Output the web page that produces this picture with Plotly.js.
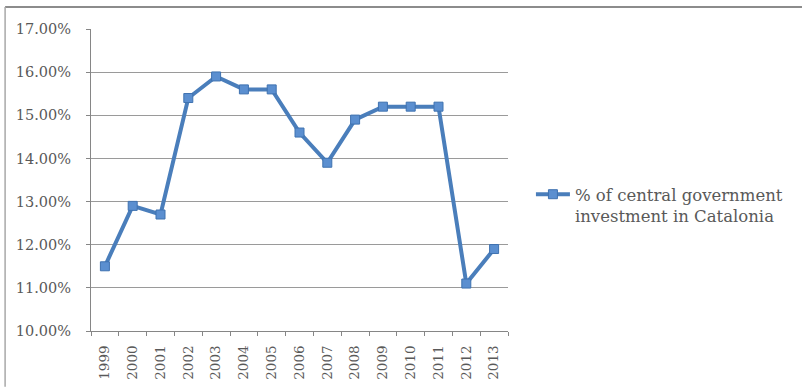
<!DOCTYPE html>
<html>
<head>
<meta charset="utf-8">
<script src="https://cdn.plot.ly/plotly-3.0.1.min.js"></script>
<style>html,body{margin:0;padding:0;background:#fff;}#chart{width:802px;height:387px;}</style>
</head>
<body>
<div id="chart"></div>
<script>
const years = ["1999","2000","2001","2002","2003","2004","2005","2006","2007","2008","2009","2010","2011","2012","2013"];
const shareValues = [11.5, 12.9, 12.7, 15.4, 15.9, 15.6, 15.6, 14.6, 13.9, 14.9, 15.2, 15.2, 15.2, 11.1, 11.9];
const seriesName = "% of central government<br>investment in Catalonia";
const yTicks = [10, 11, 12, 13, 14, 15, 16, 17];
const yTickLabels = yTicks.map(v => v.toFixed(2) + "%");

const trace = {
  x: years,
  y: shareValues,
  type: "scatter",
  mode: "lines+markers",
  name: seriesName,
  line: {color: "#4a7ebb", width: 4},
  marker: {symbol: "square", size: 9, color: "#5b8fd0", line: {color: "#3f72b0", width: 1}}
};

const fam = "DejaVu Serif, Liberation Serif, serif";

const layout = {
  width: 802, height: 387,
  margin: {l: 91, r: 294, t: 29, b: 56, autoexpand: false},
  paper_bgcolor: "#ffffff",
  plot_bgcolor: "#ffffff",
  showlegend: true,
  font: {family: fam, color: "#595959"},
  xaxis: {
    type: "category",
    range: [-0.5, 14.5],
    tickson: "boundaries",
    ticks: "outside", ticklen: 4, tickcolor: "#868686",
    showline: true, linecolor: "#868686", linewidth: 1,
    showgrid: false,
    tickangle: -90,
    ticklabelstandoff: 8,
    automargin: false,
    tickfont: {family: fam, size: 13.5, color: "#595959"},
    fixedrange: true
  },
  yaxis: {
    range: [10, 17],
    tickvals: yTicks,
    ticktext: yTickLabels,
    ticks: "outside", ticklen: 4, tickcolor: "#868686",
    showline: true, linecolor: "#868686", linewidth: 1,
    showgrid: true, gridcolor: "#9a9a9a", gridwidth: 1,
    zeroline: false,
    ticklabelstandoff: 12,
    automargin: false,
    tickfont: {family: fam, size: 14.5, color: "#595959"},
    fixedrange: true
  },
  legend: {
    x: 1.055, y: 0.51, xanchor: "left", yanchor: "top",
    valign: "top",
    font: {family: fam, size: 16.5, color: "#595959"},
    bgcolor: "rgba(0,0,0,0)",
    itemwidth: 34
  },
  shapes: [
    {type: "line", xref: "paper", yref: "paper", x0: -0.206, x1: 1.705, y0: 1.073, y1: 1.073, line: {color: "#8c8c8c", width: 2}},
    {type: "line", xref: "paper", yref: "paper", x0: -0.206, x1: -0.206, y0: 1.073, y1: -0.185, line: {color: "#a8a8a8", width: 1.5}}
  ]
};

Plotly.newPlot("chart", [trace], layout, {displayModeBar: false, staticPlot: true});
</script>
</body>
</html>
